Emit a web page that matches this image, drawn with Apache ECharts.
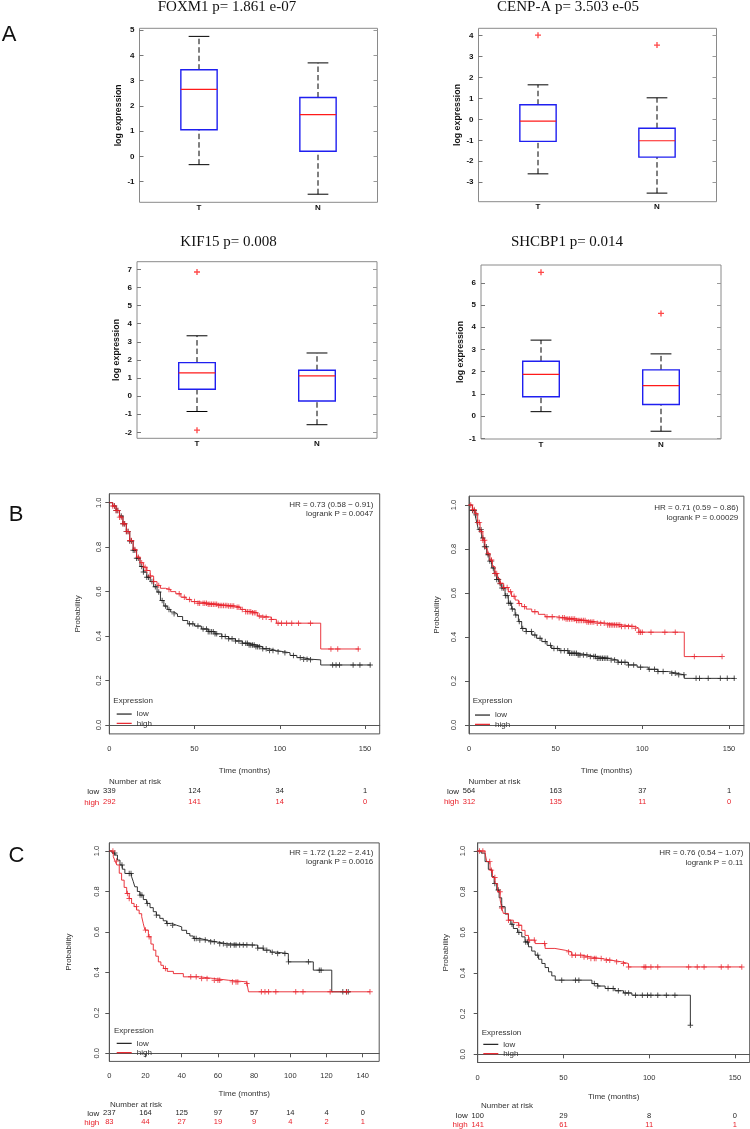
<!DOCTYPE html>
<html><head><meta charset="utf-8">
<script src="https://cdn.jsdelivr.net/npm/echarts@6/dist/echarts.min.js"></script>
<style>html,body{margin:0;padding:0;background:#fff}#c{width:750px;height:1129px}</style>
</head><body><div id="c"></div>
<script>
// ================= DATA =================
// Panel A : box plots  [min, q1, median, q3, max] per category
const boxCategories = ['T', 'N'];
const foxm1Stats = [[-0.33, 1.05, 2.65, 3.43, 4.75], [-1.5, 0.2, 1.65, 2.33, 3.7]];
const foxm1Outliers = [];
const cenpaStats = [[-2.6, -1.05, -0.08, 0.7, 1.65], [-3.52, -1.8, -1.02, -0.42, 1.03]];
const cenpaOutliers = [[0, 4.02], [1, 3.55]];
const kif15Stats = [[-0.85, 0.38, 1.28, 1.85, 3.33], [-1.58, -0.27, 1.12, 1.43, 2.38]];
const kif15Outliers = [[0, 6.85], [0, -1.88]];
const shcbp1Stats = [[0.2, 0.87, 1.88, 2.47, 3.42], [-0.68, 0.52, 1.37, 2.08, 2.8]];
const shcbp1Outliers = [[0, 6.47], [1, 4.62]];
const foxm1Ticks = [-1, 0, 1, 2, 3, 4, 5];
const cenpaTicks = [-3, -2, -1, 0, 1, 2, 3, 4];
const kif15Ticks = [-2, -1, 0, 1, 2, 3, 4, 5, 6, 7];
const shcbp1Ticks = [-1, 0, 1, 2, 3, 4, 5, 6];
const boxTitles = ['FOXM1 p= 1.861 e-07', 'CENP-A p= 3.503 e-05', 'KIF15 p= 0.008', 'SHCBP1 p= 0.014'];
const boxYName = 'log expression';

// Panels B, C : Kaplan-Meier curves [time, survival] (step after each time)
const b1Low = [[0,1.0],[2,0.985],[4,0.965],[6,0.94],[8,0.905],[10,0.87],[12,0.828],[14,0.786],[16,0.75],[18,0.713],[20,0.688],[22,0.665],[24,0.645],[26,0.622],[28,0.598],[30,0.56],[32,0.535],[34,0.52],[36,0.508],[38,0.5],[40,0.488],[43,0.47],[46,0.455],[50,0.445],[54,0.432],[58,0.42],[62,0.41],[66,0.398],[70,0.388],[74,0.378],[78,0.368],[82,0.36],[86,0.352],[90,0.343],[94,0.335],[98,0.33],[102,0.325],[106,0.313],[110,0.303],[114,0.296],[118,0.293],[124,0.27],[153.3,0.27]];
const b1High = [[0,1.0],[2,0.985],[4,0.965],[6,0.935],[8,0.905],[10,0.87],[12,0.83],[14,0.79],[16,0.755],[18,0.73],[20,0.71],[22,0.695],[24,0.67],[26,0.645],[28,0.628],[30,0.615],[33,0.61],[36,0.6],[39,0.59],[42,0.575],[45,0.565],[48,0.555],[52,0.548],[58,0.543],[64,0.538],[70,0.535],[74,0.53],[77,0.52],[80,0.51],[84,0.505],[87,0.49],[90,0.485],[95,0.475],[98,0.458],[124,0.342],[146.5,0.342]];
const b1LowCensor = [3,4,5,7,8,9,10,11,12,13,14,15,16,17,19,20,22,23,25,27,29,31,33,35,38,47,49,52,55,57,58,59,60,61,62,63,66,68,70,72,74,76,78,80,81,82,83,84,85,86,87,88,90,92,94,96,99,103,108,112,114,116,118,131,133,135,143,147,153];
const b1HighCensor = [2,3,4,5,6,7,8,9,10,11,12,13,15,17,19,21,22,24,26,29,35,41,44,47,50,52,53,55,56,57,58,59,60,61,62,63,64,65,66,67,68,69,70,71,72,73,75,76,78,80,81,82,83,84,85,86,88,90,92,95,99,101,104,107,111,118,130,134,146];

const b2Low = [[0,1.0],[2,0.975],[3.5,0.955],[4.5,0.92],[5.4,0.888],[7.3,0.85],[8.8,0.81],[10.2,0.774],[11.6,0.745],[13.1,0.714],[14.5,0.688],[16,0.661],[17.5,0.642],[18.9,0.623],[20.8,0.588],[22.7,0.553],[24.6,0.527],[26.6,0.5],[28.5,0.47],[30.4,0.439],[33,0.425],[36.2,0.409],[39,0.394],[42,0.379],[45,0.362],[47.7,0.348],[52,0.338],[57.3,0.326],[63,0.318],[68.8,0.311],[74,0.303],[80.4,0.295],[86,0.285],[91.9,0.273],[97,0.263],[103.4,0.253],[109,0.243],[115,0.235],[120,0.228],[124.2,0.212],[153.5,0.212]];
const b2High = [[0,1.0],[2,0.98],[3.5,0.962],[5,0.92],[6.4,0.879],[8,0.84],[9.2,0.803],[10.5,0.78],[12.1,0.75],[13.5,0.72],[15,0.689],[16.5,0.665],[17.9,0.644],[20,0.625],[22.7,0.606],[24.5,0.585],[26.6,0.568],[28.5,0.552],[30.4,0.538],[33,0.527],[36.2,0.515],[40,0.503],[43.9,0.492],[50,0.487],[56,0.482],[62,0.475],[68,0.468],[74,0.462],[80,0.455],[88,0.448],[96,0.44],[98,0.422],[124.2,0.311],[145.8,0.311]];
const b2LowCensor = [2,3,4,5,6,7,8,9,10,11,12,13,14,15,16,17,18,19,20,21,22,23,24,25,27,29,31,33,36,38,41,44,47,49,51,53,55,57,58,59,60,61,62,63,64,66,68,70,72,73,74,75,76,77,78,79,80,82,84,86,88,90,92,95,99,104,107,109,112,117,119,121,124,131,133,138,145,149,153];
const b2HighCensor = [1,2,3,4,5,6,7,8,9,11,13,15,16,18,20,22,24,26,29,32,38,45,48,52,54,55,56,57,58,59,60,61,62,63,64,65,66,67,68,69,70,71,72,74,76,78,80,81,82,83,84,85,86,87,88,90,92,94,96,98,99,100,105,113,119,130,146];

const c1Low = [[0,1.0],[1.5,0.99],[3.1,0.98],[4.5,0.955],[5.9,0.931],[7.2,0.91],[8.6,0.889],[12.3,0.873],[13.2,0.85],[14.1,0.823],[15.5,0.8],[16.9,0.782],[18.8,0.76],[20.6,0.741],[22.5,0.72],[24.3,0.7],[26,0.683],[27.9,0.667],[29.8,0.655],[31.6,0.642],[34.5,0.633],[37.2,0.625],[40,0.608],[42.7,0.592],[44.5,0.58],[46.4,0.568],[50,0.56],[53.7,0.551],[59,0.542],[64.8,0.535],[79.5,0.535],[82,0.52],[85.1,0.51],[89,0.5],[92.4,0.493],[98.9,0.452],[112.7,0.411],[122.9,0.304],[133.2,0.304]];
const c1High = [[0,1.0],[2.2,0.972],[3.2,0.95],[4.1,0.931],[5.5,0.89],[6.8,0.856],[8.2,0.82],[9.6,0.79],[11,0.765],[12.3,0.741],[13.7,0.725],[15.1,0.708],[16.5,0.69],[17.9,0.675],[18.8,0.64],[19.7,0.609],[21.6,0.576],[23,0.54],[24.3,0.51],[25.7,0.48],[27.1,0.452],[28.5,0.435],[29.9,0.419],[32,0.405],[35.4,0.394],[40.9,0.378],[50,0.37],[57.5,0.361],[66,0.353],[75.9,0.345],[76.9,0.304],[144,0.304]];
const c1LowCensor = [3,7,11,12,17,18,21,26,32,35,47,48,50,53,56,58,61,63,65,67,69,70,72,74,76,79,82,85,87,90,93,97,99,110,116,117,129,131,132];
const c1HighCensor = [2,4,10,11,15,20,22,31,45,48,51,54,58,60,61,68,70,71,76,84,86,88,92,103,107,122,131,144];

const c2Low = [[0,1.0],[2,0.99],[4.3,0.948],[6.2,0.91],[8.2,0.874],[9.6,0.84],[11.1,0.808],[12.5,0.77],[14,0.726],[16,0.69],[17.9,0.66],[19.3,0.64],[20.8,0.619],[23.2,0.6],[25.7,0.578],[27.6,0.553],[29.6,0.529],[31.5,0.508],[33.5,0.488],[35.5,0.468],[37.4,0.447],[39.3,0.427],[41.3,0.406],[43.2,0.386],[45.2,0.365],[66.6,0.348],[70,0.336],[74.3,0.324],[80,0.313],[85,0.302],[89.9,0.291],[124,0.143]];
const c2High = [[0,1.0],[4.3,0.989],[5.3,0.948],[7.2,0.906],[8.6,0.87],[10.1,0.84],[11.6,0.8],[13.1,0.759],[14,0.72],[15,0.693],[17.9,0.66],[20.8,0.648],[23.8,0.635],[25.7,0.61],[27.6,0.585],[29.6,0.562],[33.5,0.545],[39.3,0.521],[45,0.512],[51,0.504],[54.8,0.488],[60.7,0.479],[66,0.471],[72.3,0.463],[78,0.455],[84,0.447],[87.9,0.43],[154,0.43]];
const c2LowCensor = [10,12,14,20,24,28,29,35,49,57,59,68,70,76,79,82,86,88,92,96,99,101,105,110,115,124];
const c2HighCensor = [1,3,7,8,10,13,14,18,24,30,33,39,53,55,57,60,62,64,66,68,69,72,75,77,81,85,88,97,98,101,105,123,128,132,142,146,154];

const kmTicks150 = [0, 50, 100, 150];
const kmTicks140 = [0, 20, 40, 60, 80, 100, 120, 140];
const probTicks = [0, 0.2, 0.4, 0.6, 0.8, 1];
const b1RiskLow = [339, 124, 34, 1], b1RiskHigh = [292, 141, 14, 0];
const b2RiskLow = [564, 163, 37, 1], b2RiskHigh = [312, 135, 11, 0];
const c1RiskLow = [237, 164, 125, 97, 57, 14, 4, 0], c1RiskHigh = [83, 44, 27, 19, 9, 4, 2, 1];
const c2RiskLow = [100, 29, 8, 0], c2RiskHigh = [141, 61, 11, 1];
const b1Stats = ['HR = 0.73 (0.58 \u2212 0.91)', 'logrank P = 0.0047'];
const b2Stats = ['HR = 0.71 (0.59 \u2212 0.86)', 'logrank P = 0.00029'];
const c1Stats = ['HR = 1.72 (1.22 \u2212 2.41)', 'logrank P = 0.0016'];
const c2Stats = ['HR = 0.76 (0.54 \u2212 1.07)', 'logrank P = 0.11'];
const groupNames = ['low', 'high'];
const panelLetters = ['A', 'B', 'C'];

// ================= LAYOUT =================
const FONT = '"Liberation Sans", Arial, sans-serif';
const BLUE = '#1f1ff0', RED_BOX = '#ff1a1a', KM_RED = '#e8212a', KM_BLACK = '#1e1e1e';
const boxPanels = [
  {stats: foxm1Stats, out: foxm1Outliers, ticks: foxm1Ticks, title: boxTitles[0], left: 139.5, top: 28.3, width: 238, height: 174, min: -1.82, max: 5.07, gap: 12.8, tx: 227, ty: 7.5},
  {stats: cenpaStats, out: cenpaOutliers, ticks: cenpaTicks, title: boxTitles[1], left: 478.5, top: 28.3, width: 238, height: 173.4, min: -3.93, max: 4.35, gap: 12.5, tx: 568, ty: 7.5},
  {stats: kif15Stats, out: kif15Outliers, ticks: kif15Ticks, title: boxTitles[2], left: 137, top: 261.7, width: 240, height: 176.6, min: -2.33, max: 7.42, gap: 14.5, tx: 228.5, ty: 242.5},
  {stats: shcbp1Stats, out: shcbp1Outliers, ticks: shcbp1Ticks, title: boxTitles[3], left: 481, top: 265, width: 240, height: 174, min: -1.03, max: 6.8, gap: 11.7, tx: 567, ty: 242.5}
];
const kmPanels = [
  {low: b1Low, high: b1High, lowC: b1LowCensor, highC: b1HighCensor, ticks: kmTicks150, rl: b1RiskLow, rh: b1RiskHigh, stats: b1Stats,
   left: 109.3, top: 493.8, width: 270.4, height: 240.1, xmax: 158.6, ylm: 6.5, pgap: 27.8, tgap: 32.6, statX: 373.3, statY: [505, 513.7],
   exprX: 113.3, exprY: 701, legL: 116.7, legT: 709.4, nX: 109, nY: 781.7, rowY: [791.7, 802.3]},
  {low: b2Low, high: b2High, lowC: b2LowCensor, highC: b2HighCensor, ticks: kmTicks150, rl: b2RiskLow, rh: b2RiskHigh, stats: b2Stats,
   left: 469, top: 496.2, width: 274.9, height: 237.6, xmax: 158.6, ylm: 11.5, pgap: 28.5, tgap: 32.7, statX: 738.3, statY: [507.7, 517.7],
   exprX: 472.7, exprY: 701, legL: 475, legT: 710.4, nX: 468.5, nY: 781.7, rowY: [791.7, 802]},
  {low: c1Low, high: c1High, lowC: c1LowCensor, highC: c1HighCensor, ticks: kmTicks140, rl: c1RiskLow, rh: c1RiskHigh, stats: c1Stats,
   left: 109.3, top: 842.9, width: 269.9, height: 218.5, xmax: 149.1, ylm: 8, pgap: 36.5, tgap: 28.4, statX: 373.3, statY: [852.7, 861.7],
   exprX: 114, exprY: 1031, legL: 116.7, legT: 1038.7, nX: 110, nY: 1104.3, rowY: [1113.3, 1122.7]},
  {low: c2Low, high: c2High, lowC: c2LowCensor, highC: c2HighCensor, ticks: kmTicks150, rl: c2RiskLow, rh: c2RiskHigh, stats: c2Stats,
   left: 477.7, top: 842.9, width: 272, height: 219.6, xmax: 158.6, ylm: 10.9, pgap: 28.2, tgap: 30.3, statX: 743.3, statY: [852.7, 862.3],
   exprX: 481.7, exprY: 1032.7, legL: 483.3, legT: 1039.7, nX: 481, nY: 1106, rowY: [1116, 1125]}
];
const letterPos = [[9, 35], [16, 515], [16.5, 855.5]];

const plusKM = 'path://M-0.17,-1H0.17V-0.17H1V0.17H0.17V1H-0.17V0.17H-1V-0.17H-0.17Z';
const plusBox = 'path://M-0.22,-1H0.22V-0.22H1V0.22H0.22V1H-0.22V0.22H-1V-0.22H-0.22Z';

function survAt(curve, t) {
  let s = curve[0][1];
  for (const p of curve) { if (p[0] <= t) s = p[1]; else break; }
  return s;
}

function renderBox(params, api) {
  const c = api.value(0);
  const v = [1, 2, 3, 4, 5].map(i => api.value(i));
  const p = v.map(val => api.coord([c, val]));
  const cx = p[0][0];
  const band = api.size([1, 0])[0];
  const bw = band * 0.305, cw = bw * 0.57;
  const dash = {stroke: '#000', lineWidth: 1, lineDash: [5.5, 3]};
  const solid = {stroke: '#000', lineWidth: 1};
  return {type: 'group', children: [
    {type: 'line', shape: {x1: cx, y1: p[0][1], x2: cx, y2: p[1][1]}, style: dash},
    {type: 'line', shape: {x1: cx, y1: p[3][1], x2: cx, y2: p[4][1]}, style: dash},
    {type: 'line', shape: {x1: cx - cw / 2, y1: p[0][1], x2: cx + cw / 2, y2: p[0][1]}, style: solid},
    {type: 'line', shape: {x1: cx - cw / 2, y1: p[4][1], x2: cx + cw / 2, y2: p[4][1]}, style: solid},
    {type: 'rect', shape: {x: cx - bw / 2, y: p[3][1], width: bw, height: p[1][1] - p[3][1]}, style: {fill: '#fff', stroke: BLUE, lineWidth: 1.4}},
    {type: 'line', shape: {x1: cx - bw / 2, y1: p[2][1], x2: cx + bw / 2, y2: p[2][1]}, style: {stroke: RED_BOX, lineWidth: 1.2}}
  ]};
}

const grid = [], xAxis = [], yAxis = [], series = [], legend = [], graphic = [];

boxPanels.forEach((b, i) => {
  grid.push({left: b.left, top: b.top, width: b.width, height: b.height, show: true, borderColor: '#8a8a8a', borderWidth: 1});
  xAxis.push({type: 'category', gridIndex: i, data: boxCategories, axisLine: {show: false}, axisTick: {show: false},
    axisLabel: {margin: 1.5, fontSize: 8, fontWeight: 'bold', color: '#111', fontFamily: FONT}, splitLine: {show: false}});
  graphic.push({type: 'text', x: b.tx, y: b.ty, style: {text: b.title, fill: '#111', fontSize: 15, fontFamily: '"Liberation Serif", "Times New Roman", serif', align: 'center', verticalAlign: 'middle', textAlign: 'center', textVerticalAlign: 'middle'}});
});
boxPanels.forEach((b, i) => {
  yAxis.push({type: 'value', gridIndex: i, min: b.min, max: b.max, position: 'left', axisLine: {show: false},
    axisTick: {show: true, inside: true, length: 4, customValues: b.ticks, lineStyle: {color: '#777'}},
    axisLabel: {customValues: b.ticks, margin: 5, fontSize: 8, fontWeight: 'bold', color: '#111', fontFamily: FONT},
    splitLine: {show: false}, name: boxYName, nameLocation: 'middle', nameRotate: 90, nameGap: b.gap,
    nameTextStyle: {fontSize: 8.8, fontWeight: 'bold', color: '#111', fontFamily: FONT}});
});
boxPanels.forEach((b, i) => {
  yAxis.push({type: 'value', gridIndex: i, min: b.min, max: b.max, position: 'right', axisLine: {show: false},
    axisTick: {show: true, inside: true, length: 4, customValues: b.ticks, lineStyle: {color: '#999'}},
    axisLabel: {show: false}, splitLine: {show: false}});
});
boxPanels.forEach((b, i) => {
  series.push({type: 'custom', xAxisIndex: i, yAxisIndex: i, renderItem: renderBox,
    data: b.stats.map((s, k) => [k].concat(s)), encode: {x: 0, y: [1, 2, 3, 4, 5]}, z: 2});
  series.push({type: 'scatter', xAxisIndex: i, yAxisIndex: i, data: b.out, symbol: plusBox, symbolSize: 6,
    itemStyle: {color: RED_BOX}, z: 3});
});

kmPanels.forEach((k, j) => {
  const gi = 4 + j;
  grid.push({left: k.left, top: k.top, width: k.width, height: k.height, show: true, borderColor: '#555', borderWidth: 1});
  xAxis.push({type: 'value', gridIndex: gi, min: 0, max: k.xmax, axisLine: {show: true, lineStyle: {color: '#555'}},
    axisTick: {show: true, length: 4, customValues: k.ticks, lineStyle: {color: '#555'}},
    axisLabel: {customValues: k.ticks, margin: 11, fontSize: 7.5, color: '#333', fontFamily: FONT},
    splitLine: {show: false}, name: 'Time (months)', nameLocation: 'middle', nameGap: k.tgap,
    nameTextStyle: {fontSize: 8, color: '#333', fontFamily: FONT}});
  const bottom = k.top + k.height;
  [[k.rl, KM_BLACK, k.rowY[0]], [k.rh, KM_RED, k.rowY[1]]].forEach(r => {
    const counts = r[0];
    xAxis.push({type: 'value', gridIndex: gi, min: 0, max: k.xmax, position: 'bottom', offset: r[2] - bottom - 4.5,
      axisLine: {show: false}, axisTick: {show: false}, splitLine: {show: false},
      axisLabel: {customValues: k.ticks, margin: 0, fontSize: 7.5, color: r[1], fontFamily: FONT,
        formatter: v => String(counts[k.ticks.indexOf(v)])}});
  });
  yAxis.push({type: 'value', gridIndex: gi, min: -0.04, max: 1.04, axisLine: {show: true, lineStyle: {color: '#555'}},
    axisTick: {show: true, length: 4, customValues: probTicks, lineStyle: {color: '#555'}},
    axisLabel: {customValues: probTicks, rotate: 90, margin: k.ylm, fontSize: 7.5, color: '#333', fontFamily: FONT, formatter: v => v.toFixed(1)},
    splitLine: {show: false}, name: 'Probability', nameLocation: 'middle', nameRotate: 90, nameGap: k.pgap,
    nameTextStyle: {fontSize: 8, color: '#333', fontFamily: FONT}});
});

// axis indices: box x axes 0..3, then per KM panel: main x, risk-low x, risk-high x
let xIdx = 4;
kmPanels.forEach((k, j) => {
  const xa = xIdx; xIdx += 3;
  const ya = 8 + j;
  series.push({name: groupNames[0], type: 'line', step: 'end', xAxisIndex: xa, yAxisIndex: ya, data: k.low, showSymbol: false,
    lineStyle: {color: KM_BLACK, width: 0.9}, itemStyle: {color: KM_BLACK}, z: 3});
  series.push({name: groupNames[1], type: 'line', step: 'end', xAxisIndex: xa, yAxisIndex: ya, data: k.high, showSymbol: false,
    lineStyle: {color: KM_RED, width: 0.9}, itemStyle: {color: KM_RED}, z: 4});
  series.push({name: 'low censored', type: 'scatter', xAxisIndex: xa, yAxisIndex: ya, data: k.lowC.map(t => [t, survAt(k.low, t)]),
    symbol: plusKM, symbolSize: 5.5, itemStyle: {color: KM_BLACK}, z: 3});
  series.push({name: 'high censored', type: 'scatter', xAxisIndex: xa, yAxisIndex: ya, data: k.highC.map(t => [t, survAt(k.high, t)]),
    symbol: plusKM, symbolSize: 5.5, itemStyle: {color: KM_RED}, z: 4});
  legend.push({data: groupNames, left: k.legL, top: k.legT, orient: 'vertical', icon: 'rect', itemWidth: 15, itemHeight: 1.2,
    itemGap: 0, padding: 0, selectedMode: false, textStyle: {fontSize: 8, color: '#333', lineHeight: 9.3, fontFamily: FONT}});
  const txt = (x, y, text, align, color, size) => ({type: 'text', x: x, y: y, style: {text: text, fill: color || '#333', fontSize: size || 8, fontFamily: FONT,
    align: align, verticalAlign: 'middle', textAlign: align, textVerticalAlign: 'middle'}});
  graphic.push(txt(k.statX, k.statY[0], k.stats[0], 'right'));
  graphic.push(txt(k.statX, k.statY[1], k.stats[1], 'right'));
  graphic.push(txt(k.exprX, k.exprY, 'Expression', 'left'));
  graphic.push(txt(k.nX, k.nY, 'Number at risk', 'left'));
  graphic.push(txt(k.left - 10, k.rowY[0], groupNames[0], 'right', KM_BLACK));
  graphic.push(txt(k.left - 10, k.rowY[1], groupNames[1], 'right', KM_RED));
});

panelLetters.forEach((L, i) => {
  graphic.push({type: 'text', x: letterPos[i][0], y: letterPos[i][1], style: {text: L, fill: '#111', fontSize: 22, fontFamily: FONT,
    align: 'center', verticalAlign: 'middle', textAlign: 'center', textVerticalAlign: 'middle'}});
});

const chart = echarts.init(document.getElementById('c'), null, {renderer: 'canvas', width: 750, height: 1129});
chart.setOption({
  animation: false,
  backgroundColor: '#fff',
  grid: grid, xAxis: xAxis, yAxis: yAxis, series: series, legend: legend, graphic: graphic
});
</script>
</body></html>
